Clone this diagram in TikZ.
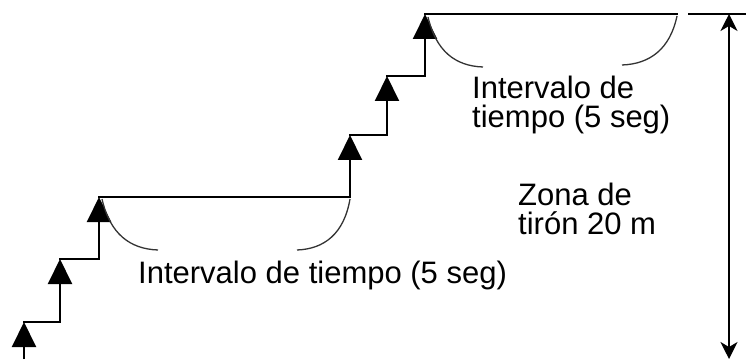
\documentclass[tikz,border=0pt]{standalone}
\usepackage{fontspec}
\setmainfont{Liberation Sans}
\usepackage{tikz}
\usetikzlibrary{arrows.meta}
\tikzstyle{tread} = [line width=2pt, line cap=rect]
\tikzstyle{rise} = [line width=2pt, 
-{Triangle[length=25pt, width=24pt]}]
\tikzstyle{interval} = [line width=1.3pt, 
draw=black!80]
\tikzstyle{arrow} = [line width=1.6pt,
{Stealth[length=17pt, width=17pt, inset=5pt]}-{Stealth[length=17pt, width=17pt, inset=5pt]}]
\tikzstyle{note} = [inner sep=0pt, 
align=left, 
font=\fontsize{31}{29}\selectfont]

\begin{document}
\begin{tikzpicture}[x=1pt, y=1pt]
\useasboundingbox (0,0) rectangle (746,359);
% corners of the stairs
\coordinate (s0) at (24,0);
\coordinate (c1) at (24,37);
\coordinate (s1) at (60,37);
\coordinate (c2) at (60,100);
\coordinate (s2) at (99,100);
\coordinate (c3) at (99,162);
\coordinate (s3) at (350,162);
\coordinate (c4) at (350,224);
\coordinate (s4) at (387,224);
\coordinate (c5) at (387,283);
\coordinate (s5) at (425,283);
\coordinate (c6) at (425,345);
\coordinate (e6) at (677,345);
\coordinate (m0) at (689,345);
\coordinate (m1) at (746,345);
\coordinate (zt) at (729,345);
\coordinate (zb) at (729,0);

\draw [rise] (s0) -- (c1);
\draw [tread] (c1) -- (s1);
\draw [rise] (s1) -- (c2);
\draw [tread] (c2) -- (s2);
\draw [rise] (s2) -- (c3);
\draw [tread] (c3) -- (s3);
\draw [rise] (s3) -- (c4);
\draw [tread] (c4) -- (s4);
\draw [rise] (s4) -- (c5);
\draw [tread] (c5) -- (s5);
\draw [rise] (s5) -- (c6);
\draw [tread] (c6) -- (e6);
\draw [tread] (m0) -- (m1);

% time intervals
\draw [interval] (102,160) .. controls (110,125) and (130,110) .. (158,109);
\draw [interval] (350,160) .. controls (344,125) and (324,110) .. (297,109);
\draw [interval] (428,342) .. controls (436,308) and (455,293) .. (483,292);
\draw [interval] (677,343) .. controls (670,310) and (650,295) .. (622,294);

\draw [arrow] (zb) -- (zt);

\node (int1) [note, anchor=base west] at (138,76) {Intervalo de tiempo (5 seg)};
\node (int2) [note, anchor=north west] at (472,283) {Intervalo de\\tiempo (5 seg)};
\node (zona) [note, anchor=north west] at (518,176) {Zona de\\tirón 20 m};

\end{tikzpicture}
\end{document}
